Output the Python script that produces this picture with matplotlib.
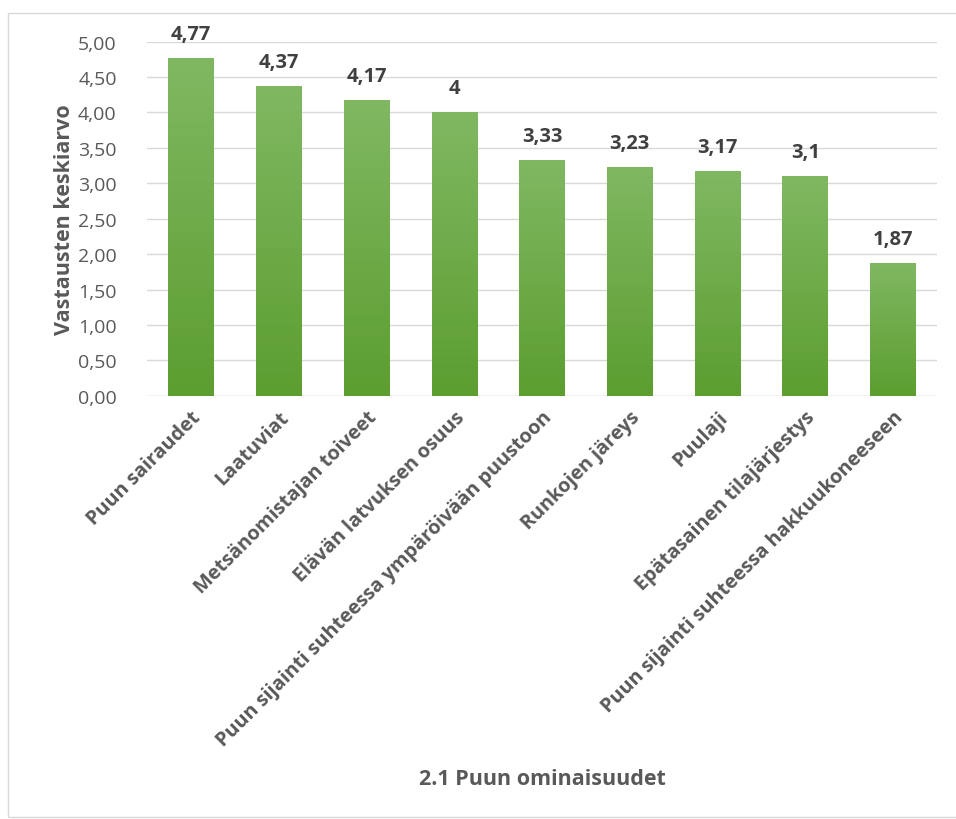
import matplotlib
matplotlib.use("Agg")
import matplotlib.pyplot as plt
import numpy as np
from matplotlib.patches import Rectangle
from matplotlib.colors import LinearSegmentedColormap

categories = ["Puun sairaudet", "Laatuviat", "Metsänomistajan toiveet",
              "Elävän latvuksen osuus", "Puun sijainti suhteessa ympäröivään puustoon",
              "Runkojen järeys", "Puulaji", "Epätasainen tilajärjestys",
              "Puun sijainti suhteessa hakkuukoneeseen"]
values = [4.77, 4.37, 4.17, 4.0, 3.33, 3.23, 3.17, 3.1, 1.87]
value_labels = ["4,77", "4,37", "4,17", "4", "3,33", "3,23", "3,17", "3,1", "1,87"]
yticks = [0, 0.5, 1, 1.5, 2, 2.5, 3, 3.5, 4, 4.5, 5]

plt.rcParams['font.family'] = ['Open Sans', 'DejaVu Sans']
grey = "#595959"

fig = plt.figure(figsize=(9.56, 8.2), dpi=100)
# outer chart frame
fig.patches.append(Rectangle((8/956, 2/820), 960/956, 804/820, transform=fig.transFigure,
                             fill=False, edgecolor="#d9d9d9", linewidth=1))
ax = fig.add_axes([0.154, 0.516, 0.826, 0.432])

x = np.arange(len(categories))
width = 0.52
bars = ax.bar(x, values, width=width, color="#6aab40", zorder=2)

# vertical gradient inside each bar
cmap = LinearSegmentedColormap.from_list("g", ["#5c9e30", "#80b862"])
grad = np.linspace(0, 1, 256).reshape(-1, 1)
for b in bars:
    im = ax.imshow(grad, cmap=cmap, origin="lower", aspect="auto", zorder=3,
                   extent=[b.get_x(), b.get_x() + b.get_width(), 0, b.get_height()])
    im.set_clip_path(b)

for xi, v, lab in zip(x, values, value_labels):
    ax.text(xi, v + 0.2, lab, ha="center", va="bottom", fontsize=14.5,
            fontweight="bold", color="#404040")

ax.set_xlim(-0.5, len(categories) - 0.5)
ax.set_ylim(0, 5)
ax.set_yticks(yticks)
ax.set_yticklabels([f"{t:.2f}".replace(".", ",") for t in yticks], fontsize=14, color=grey)
ax.yaxis.grid(True, color="#d9d9d9", linewidth=1, zorder=0)
ax.set_axisbelow(True)
for s in ax.spines.values():
    s.set_visible(False)
ax.tick_params(axis="y", length=0, pad=22)
ax.tick_params(axis="x", length=0, pad=8)
ax.axhline(0, color="#d9d9d9", linewidth=1, zorder=1)

ax.set_xticks(x)
ax.set_xticklabels(categories, rotation=45, ha="right", rotation_mode="anchor",
                   fontsize=14.3, fontweight="bold", color=grey)
ax.set_ylabel("Vastausten keskiarvo", fontsize=15.5, fontweight="bold", color=grey, labelpad=2)

fig.text(542/956, 1 - 780/820, "2.1 Puun ominaisuudet", ha="center", va="center",
         fontsize=15.5, fontweight="bold", color=grey)

fig.savefig("out.png", dpi=100)
